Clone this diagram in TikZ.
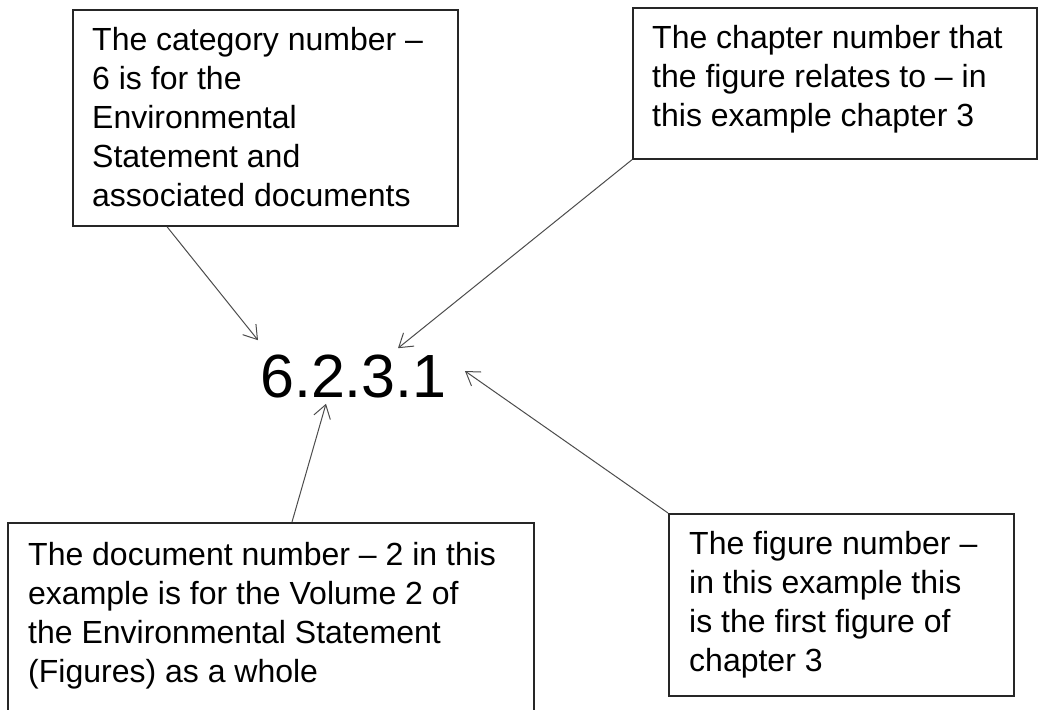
\documentclass[tikz,border=0pt]{standalone}
\usepackage{fontspec}
\setmainfont{Liberation Sans}
\usepackage{tikz}
\usetikzlibrary{calc,fit,positioning,arrows.meta,shapes}

\begin{document}
\begin{tikzpicture}[x=1pt,y=-1pt]
\tikzset{
    box/.style={
       draw = black!85,
       line width = 1.7pt,
       inner sep = 0pt,
       anchor = north west
    },
    boxtext/.style={
       inner sep = 0pt,
       anchor = north west,
       align = left,
       font = \fontsize{32}{39}\selectfont
    },
    pointer/.style={
       draw = black!70,
       line width = 1pt,
       -{Straight Barb[length=13pt,width=17pt]}
    }
}
%
\useasboundingbox (0,0) rectangle (1038,709);
\clip (0,0) rectangle (1038,709);

\node[box, minimum width=385, minimum height=216] (catbox) at (72,9) {};
\node[boxtext] (cattext) at (92,27) {The category number --\\6 is for the\\Environmental\\Statement and\\associated documents};

\node[box, minimum width=404, minimum height=151] (chapbox) at (632,7) {};
\node[boxtext] (chaptext) at (652,25) {The chapter number that\\the figure relates to -- in\\this example chapter 3};

\node[box, minimum width=526, minimum height=220] (docbox) at (7,522) {};
\node[boxtext] (doctext) at (28,542) {The document number -- 2 in this\\example is for the Volume 2 of\\the Environmental Statement\\(Figures) as a whole};

\node[box, minimum width=345, minimum height=182] (figbox) at (668,513) {};
\node[boxtext] (figtext) at (689,531) {The figure number --\\in this example this\\is the first figure of\\chapter 3};

\node[inner sep=0pt, anchor=base west, font=\fontsize{61}{70}\selectfont] (num) at (260,397) {6.2.3.1};

\draw[pointer] ([xshift=95pt]catbox.south west) -- ([shift={(-2,-14)}]num.north west);
\draw[pointer] (chapbox.south west) -- ([shift={(138,-6)}]num.north west);
\draw[pointer] ([xshift=285pt]docbox.north west) -- ([shift={(66,6)}]num.south west);
\draw[pointer] (figbox.north west) -- ([shift={(18,-5)}]num.east);
%\draw[help lines] (0,0) grid[step=100] (1038,709);
\end{tikzpicture}
\end{document}
